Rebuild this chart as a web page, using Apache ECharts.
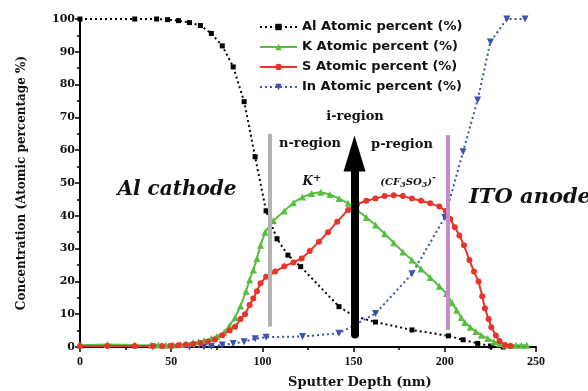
<!DOCTYPE html>
<html>
<head>
<meta charset="utf-8">
<script src="https://cdn.jsdelivr.net/npm/echarts@6/dist/echarts.min.js"></script>
<style>
html, body { margin: 0; padding: 0; background: #fff; }
#chart { width: 588px; height: 391px; }
</style>
</head>
<body>
<div id="chart"></div>
<script>
// depth (nm) / atomic percent
var alDepth = [0, 30, 42, 48, 54, 60, 66, 72, 78, 84, 90, 96, 102, 108, 114, 121, 142, 150, 162, 182, 202, 210, 218, 225, 232]
var alValue = [100, 100, 100, 99.8, 99.5, 98.9, 98, 95.6, 91.8, 85.4, 74.8, 58, 41.5, 33, 28, 24.5, 12.3, 9.5, 7.6, 5.2, 3.4, 2.2, 1.1, 0.3, 0]

var kDepth = [0, 15, 30, 39, 43, 47, 51, 55, 58, 62, 65, 68, 72, 75, 79, 82, 85, 88, 91, 93, 95, 97, 99, 101.5, 106, 112, 117, 122, 127, 132, 137, 142, 147, 152, 157, 162, 167, 172, 177, 182, 187, 192, 197, 201, 204, 206.5, 209, 211, 214, 217, 220, 223.5, 227, 230, 233, 236, 239, 242, 245]
var kValue = [0.5, 0.8, 0.6, 0.5, 0.6, 0.5, 0.6, 0.8, 1, 1.3, 1.6, 2, 2.6, 3.2, 4.5, 6.5, 9, 12.5, 17, 20.5, 23.5, 27, 31, 35, 38.5, 41.5, 44, 45.7, 46.8, 47.2, 46.5, 45.3, 43.8, 41.8, 39.5, 37.2, 34.5, 31.8, 29, 26.5, 23.8, 21.2, 18.5, 16.3, 13.5, 11.2, 9, 7.5, 6, 4.7, 3.6, 2.6, 1.6, 1, 0.6, 0.5, 0.5, 0.5, 0.5]

var sDepth = [0, 15, 30, 40, 45, 50, 54, 58, 62, 66, 70, 74, 78, 82, 85, 88, 90.5, 93, 95, 97, 99, 102, 107, 112, 117, 121.5, 126, 131, 136, 141, 147, 152, 157, 162, 167, 172, 177, 182, 187, 192, 197, 200.5, 203, 205.5, 208, 210.5, 213.5, 216, 218.5, 220.5, 222, 224, 225.5, 228, 230, 233, 236]
var sValue = [0.3, 0.3, 0.3, 0.3, 0.3, 0.4, 0.5, 0.7, 0.9, 1.2, 1.6, 2.3, 3.6, 5, 6.2, 8.5, 10, 12.8, 14.8, 17, 19.4, 21.4, 23, 24.6, 25.8, 27, 29.3, 32.1, 35, 38.2, 41.8, 43.6, 44.6, 45.3, 46, 46.3, 46, 45.3, 44.6, 43.8, 42.8, 41.5, 39, 36.5, 34, 31, 26.5, 23, 20, 15.5, 11.8, 8.5, 6, 3.5, 1.8, 0.6, 0.3]

var inDepth = [40, 50, 60, 68, 72, 78, 84, 90, 96, 102, 122, 142, 162, 182, 200, 210, 218, 225, 234, 244]
var inValue = [0, 0, 0, 0, 0.2, 0.6, 1.1, 1.6, 2.5, 3, 3.2, 4.2, 10.2, 22.3, 39.5, 59.5, 75.3, 93, 100, 100]

var seriesNames = ['Al Atomic percent (%)', 'K Atomic percent (%)', 'S Atomic percent (%)', 'In Atomic percent (%)']
var xTicks = [0, 50, 100, 150, 200, 250]

function pairs(xs, ys) {
    return xs.map(function(x, i) { return [x, ys[i]] })
}

var serif = 'DejaVu Serif'
var chart = echarts.init(document.getElementById('chart'), null, { renderer: 'canvas' })

var option = {
    animation: false,
    grid: { left: 80, top: 19, width: 456, height: 328 },
    legend: {
        orient: 'vertical',
        left: 254,
        top: 15,
        itemWidth: 37,
        itemHeight: 8,
        itemGap: 6,
        data: seriesNames,
        textStyle: { fontFamily: 'DejaVu Sans', fontWeight: 'bold', fontSize: 13, color: '#111', lineHeight: 14 }
    },
    xAxis: {
        type: 'value',
        min: 0,
        max: 250,
        interval: 50,
        axisLine: { lineStyle: { color: '#000', width: 2 } },
        axisTick: { inside: false, length: 5, lineStyle: { color: '#000', width: 1.5 } },
        minorTick: { show: true, splitNumber: 2, length: 3, lineStyle: { color: '#000', width: 1.5 } },
        splitLine: { show: false },
        axisLabel: {
            margin: 9,
            fontFamily: 'Liberation Serif', fontWeight: 'bold', fontSize: 12, color: '#111',
            formatter: function(v) { return xTicks.indexOf(v) >= 0 ? String(v) : '' }
        }
    },
    yAxis: {
        type: 'value',
        min: 0,
        max: 100,
        interval: 10,
        name: 'Concentration (Atomic percentage %)',
        nameLocation: 'middle',
        nameGap: 52,
        nameTextStyle: { fontFamily: serif, fontWeight: 'bold', fontSize: 12, color: '#111' },
        axisLine: { show: true, lineStyle: { color: '#000', width: 2 } },
        axisTick: { show: true, length: 5, lineStyle: { color: '#000', width: 1.5 } },
        minorTick: { show: true, splitNumber: 2, length: 3, lineStyle: { color: '#000', width: 1.5 } },
        splitLine: { show: false },
        axisLabel: { margin: 5, fontFamily: serif, fontWeight: 'bold', fontSize: 11, color: '#111' }
    },
    series: [
        {
            name: seriesNames[0],
            type: 'line',
            data: pairs(alDepth, alValue),
            symbol: 'rect',
            symbolSize: 5,
            showAllSymbol: true,
            itemStyle: { color: '#000' },
            lineStyle: { color: '#000', width: 2, type: [2, 3] },
            z: 3,
            markLine: {
                silent: true,
                symbol: 'none',
                label: { show: false },
                data: [
                    [{ coord: [104, 6.2], lineStyle: { color: '#b3b3b3', width: 4, type: 'solid' } }, { coord: [104, 65] }],
                    [{ coord: [201.7, 5.2], lineStyle: { color: '#c98ac9', width: 4, type: 'solid' } }, { coord: [201.7, 64.6] }]
                ]
            }
        },
        {
            name: seriesNames[1],
            type: 'line',
            data: pairs(kDepth, kValue),
            symbol: 'triangle',
            symbolSize: 7,
            showAllSymbol: true,
            itemStyle: { color: '#58bd40' },
            lineStyle: { color: '#58bd40', width: 2 },
            z: 4
        },
        {
            name: seriesNames[2],
            type: 'line',
            data: pairs(sDepth, sValue),
            symbol: 'circle',
            symbolSize: 6,
            showAllSymbol: true,
            itemStyle: { color: '#e8352c' },
            lineStyle: { color: '#e8352c', width: 2 },
            z: 4
        },
        {
            name: seriesNames[3],
            type: 'line',
            data: pairs(inDepth, inValue),
            symbol: 'triangle',
            symbolRotate: 180,
            symbolSize: 7,
            showAllSymbol: true,
            itemStyle: { color: '#3a52b0' },
            lineStyle: { color: '#3a52b0', width: 2, type: [2, 3] },
            z: 3,
            markLine: {
                silent: true,
                symbol: ['none', 'triangle'],
                symbolSize: [22, 36],
                label: { show: false },
                z: 10,
                data: [
                    [{ coord: [150.5, 3.8], lineStyle: { color: '#000', width: 8, type: 'solid', cap: 'round' }, itemStyle: { color: '#000' } }, { coord: [150.5, 59] }]
                ]
            }
        }
    ],
    graphic: [
        { type: 'text', left: 288, top: 376, style: { text: 'Sputter Depth (nm)', font: 'bold 13px "DejaVu Serif"', fill: '#111' } },
        { type: 'text', x: 177, y: 190, style: { text: 'Al cathode', font: 'italic bold 20px "DejaVu Serif"', fill: '#111', align: 'center', verticalAlign: 'middle' } },
        { type: 'text', x: 469, y: 198, style: { text: 'ITO anode', font: 'italic bold 21px "DejaVu Serif"', fill: '#111', align: 'left', verticalAlign: 'middle' } },
        { type: 'text', x: 355, y: 117, style: { text: 'i-region', font: 'bold 13px "DejaVu Serif"', fill: '#111', align: 'center', verticalAlign: 'middle' } },
        { type: 'text', x: 310, y: 144, style: { text: 'n-region', font: 'bold 13px "DejaVu Serif"', fill: '#111', align: 'center', verticalAlign: 'middle' } },
        { type: 'text', x: 402, y: 145, style: { text: 'p-region', font: 'bold 13px "DejaVu Serif"', fill: '#111', align: 'center', verticalAlign: 'middle' } },
        {
            type: 'text', x: 312, y: 182,
            style: {
                text: '{k|K}{sup|+}', align: 'center', verticalAlign: 'middle',
                rich: {
                    k: { font: 'italic bold 12px "DejaVu Serif"', fill: '#111' },
                    sup: { font: 'bold 10px "DejaVu Serif"', fill: '#111', verticalAlign: 'top', padding: [0, 0, 8, 0] }
                }
            }
        },
        {
            type: 'text', x: 408, y: 182,
            style: {
                text: '{m|(CF}{s|3}{m|SO}{s|3}{m|)}{p|-}', align: 'center', verticalAlign: 'middle',
                rich: {
                    m: { font: 'italic bold 10px "DejaVu Serif"', fill: '#111' },
                    s: { font: 'italic bold 8px "DejaVu Serif"', fill: '#111', padding: [6, 0, 0, 0] },
                    p: { font: 'bold 9px "DejaVu Serif"', fill: '#111', padding: [0, 0, 8, 0] }
                }
            }
        }
    ]
}
chart.setOption(option)
</script>
</body>
</html>
